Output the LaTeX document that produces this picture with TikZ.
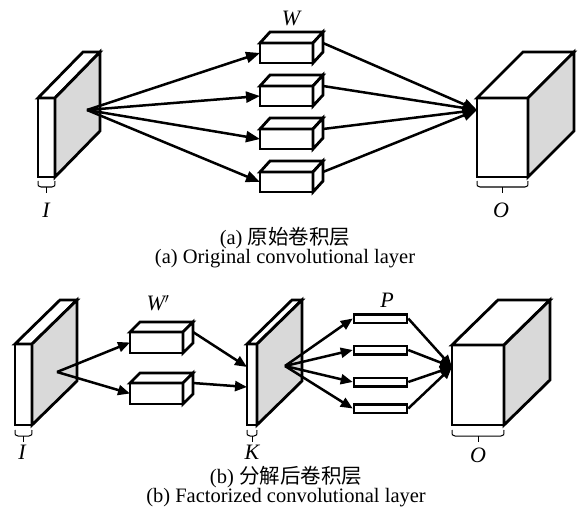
\documentclass[tikz,border=0pt]{standalone}
\usepackage{fontspec}
\setmainfont{Liberation Serif}
\newfontfamily\cjk{Noto Sans CJK SC}
\usetikzlibrary{arrows.meta}
\definecolor{sidegray}{gray}{0.85}
\tikzset{
  solid3d/.style={line width=2.8pt, line join=miter, draw=black},
  conn/.style={line width=2.5pt, -{Triangle[length=14pt,width=11pt]}},
  connb/.style={line width=2.5pt, -{Triangle[length=12pt,width=10pt]}},
  brcline/.style={line width=1pt},
  lbl/.style={font=\fontsize{22}{24}\selectfont\itshape, inner sep=0pt},
  captext/.style={font=\fontsize{20.5}{19}\selectfont, inner sep=0pt, align=center},
  pbox/.style={draw, line width=2.5pt, minimum width=53pt, minimum height=8.5pt, inner sep=0pt, fill=white},
}
% name, x, y, w, h, dx, dy, side fill
\newcommand\cuboid[8]{%
  \filldraw[solid3d, fill=white] (#2,#3) -- ++(#4,0) -- ++(0,#5) -- ++(-#4,0) -- cycle;
  \filldraw[solid3d, fill=white] (#2,#3) -- ++(#6,-#7) -- ++(#4,0) -- ++(-#6,#7) -- cycle;
  \filldraw[solid3d, fill=#8] (#2+#4,#3) -- ++(#6,-#7) -- ++(0,#5) -- ++(-#6,#7) -- cycle;
  \coordinate (#1-w) at (#2,#3+#5/2);
  \coordinate (#1-s) at (#2+#4+#6,#3);
}
% name, x1, x2, ytop
\newcommand\undbrace[4]{%
  \draw[brcline] (#2,#4) .. controls (#2,#4+5) and (#2,#4+6) .. (#2+3,#4+6) -- (#3-3,#4+6) .. controls (#3,#4+6) and (#3,#4+5) .. (#3,#4);
  \draw[brcline] ({(#2+#3)/2},#4+6) -- ++(0,6);
  \coordinate (#1) at ({(#2+#3)/2},#4+12);
}
\begin{document}
\begin{tikzpicture}[x=1pt,y=-1pt]
\useasboundingbox (0,0) rectangle (582,511);
% ---------- (a) ----------
\cuboid{Ia}{38}{98}{17}{79}{45}{46}{sidegray}
\cuboid{Wa}{260}{43}{53}{20}{10}{11}{white}
\cuboid{Wb}{260}{86}{53}{20}{10}{11}{white}
\cuboid{Wc}{260}{129}{53}{20}{10}{11}{white}
\cuboid{Wd}{260}{172}{53}{20}{10}{11}{white}
\cuboid{Oa}{477}{98}{51}{79}{46}{46}{sidegray}
\coordinate (srcA) at (87,110);
\coordinate (dstA) at (477,110);
\foreach \b in {Wa,Wb,Wc,Wd}{
  \draw[conn] (srcA) -- (\b-w);
  \draw[conn] (\b-s) -- (dstA);
}
\undbrace{braceIa}{38}{55}{181}
\undbrace{braceOa}{477}{528}{181}
\node[lbl] (labW) at (291,18) {W};
\node[lbl] (labIa) at (46,210) {I};
\node[lbl] (labOa) at (501,210) {O};
\node[captext] (capa) at (285,248) {(a) {\cjk 原始卷积层}\\(a) Original convolutional layer};
% ---------- (b) ----------
\cuboid{Ib}{15}{344}{17}{81}{45}{44}{sidegray}
\cuboid{Va}{130}{332}{53}{21}{10}{10}{white}
\cuboid{Vb}{130}{383}{53}{21}{10}{10}{white}
\cuboid{K}{247}{344}{10}{81}{45}{44}{sidegray}
\cuboid{Ob}{452}{345}{52}{80}{46}{45}{sidegray}
\coordinate (srcB) at (57,372);
\coordinate (k1) at (247,367);
\coordinate (k2) at (247,387);
\draw[connb] (srcB) -- (Va-w);
\draw[connb] (srcB) -- (Vb-w);
\draw[connb] (Va-s) -- (k1);
\draw[connb] (Vb-s) -- (k2);
\node[pbox] (P1) at (380.5,318.5) {};
\node[pbox] (P2) at (380.5,350) {};
\node[pbox] (P3) at (380.5,382) {};
\node[pbox] (P4) at (380.5,408.5) {};
\coordinate (srcC) at (285,366);
\coordinate (dstC) at (452,367);
\foreach \p in {P1,P2,P3,P4}{
  \draw[connb] (srcC) -- (\p.west);
  \draw[connb] (\p.east) -- (dstC);
}
\undbrace{braceIb}{15}{32}{430}
\undbrace{braceK}{247}{257}{430}
\undbrace{braceOb}{452}{504}{430}
\node[lbl] (labV) at (158,303) {W$'$};
\node[lbl] (labIb) at (22,452) {I};
\node[lbl] (labK) at (252,452) {K};
\node[lbl] (labP) at (387,300) {P};
\node[lbl] (labOb) at (478,455) {O};
\node[captext] (capb) at (286,487) {(b) {\cjk 分解后卷积层}\\(b) Factorized convolutional layer};
\end{tikzpicture}
\end{document}
